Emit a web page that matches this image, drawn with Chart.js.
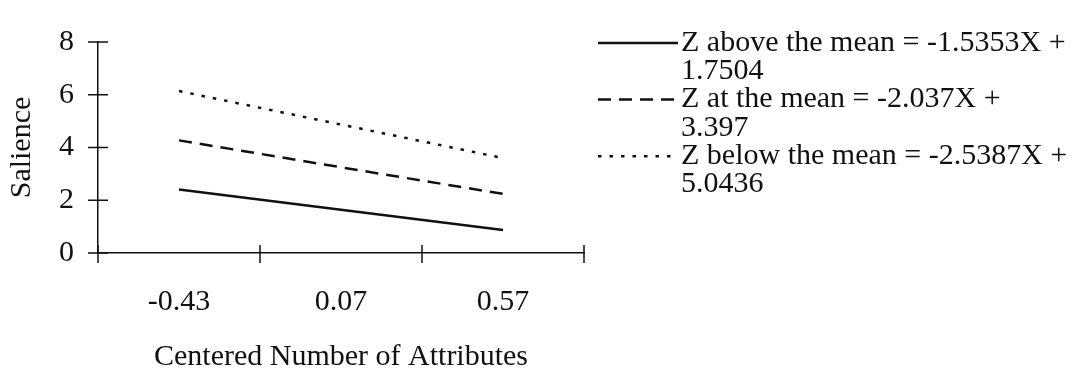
<!DOCTYPE html>
<html>
<head>
<meta charset="utf-8">
<script src="https://cdn.jsdelivr.net/npm/chart.js@4"></script>
<style>
  html, body { margin: 0; padding: 0; background: #fff; }
</style>
</head>
<body>
<canvas id="myChart" width="1075" height="368"></canvas>
<script>
const categories = ['-0.43', '0.07', '0.57']
const aboveMean = [2.41, 1.64, 0.87]
const atMean = [4.27, 3.25, 2.24]
const belowMean = [6.14, 4.87, 3.6]
const yTicks = [0, 2, 4, 6, 8]
const legendLabels = [
  ['Z above the mean = -1.5353X +', '1.7504'],
  ['Z at the mean = -2.037X +', '3.397'],
  ['Z below the mean = -2.5387X +', '5.0436'],
]

const FONT = "'Liberation Serif', 'Times New Roman', serif"
const INK = '#111'

// tick marks that cross the axes, like the original
const crossTicks = {
  id: 'crossTicks',
  afterDraw(chart) {
    const ctx = chart.ctx
    const xs = chart.scales.x
    const ys = chart.scales.y
    ctx.save()
    ctx.strokeStyle = INK
    ctx.lineWidth = 1.5
    ctx.beginPath()
    yTicks.forEach(v => {
      const py = ys.getPixelForValue(v)
      ctx.moveTo(xs.left - 10, py)
      ctx.lineTo(xs.left + 10, py)
    })
    for (let i = 0; i <= categories.length; i++) {
      const px = xs.getPixelForValue(i - 0.5)
      ctx.moveTo(px, ys.bottom - 8)
      ctx.lineTo(px, ys.bottom + 10)
    }
    ctx.stroke()
    ctx.restore()
  },
}

// legend on the right with wrapped labels
const sideLegend = {
  id: 'sideLegend',
  afterDraw(chart) {
    const ctx = chart.ctx
    const x0 = 598
    const x1 = 678
    const tx = 681
    const lineH = 28.3
    let y = 43
    ctx.save()
    ctx.font = '30px ' + FONT
    ctx.textBaseline = 'middle'
    ctx.fillStyle = INK
    chart.data.datasets.forEach((ds, i) => {
      ctx.beginPath()
      ctx.strokeStyle = INK
      ctx.lineWidth = ds.borderWidth
      ctx.setLineDash(ds.borderDash || [])
      ctx.moveTo(x0, y)
      ctx.lineTo(x1, y)
      ctx.stroke()
      ctx.setLineDash([])
      legendLabels[i].forEach((t, j) => {
        ctx.fillText(t, tx, y + j * lineH)
      })
      y += lineH * legendLabels[i].length
    })
    ctx.restore()
  },
}

const data = {
  labels: categories,
  datasets: [
    {
      label: legendLabels[0].join(' '),
      data: aboveMean,
      borderColor: INK,
      borderWidth: 2.5,
      pointRadius: 0,
      fill: false,
    },
    {
      label: legendLabels[1].join(' '),
      data: atMean,
      borderColor: INK,
      borderWidth: 2.5,
      borderDash: [13, 8],
      pointRadius: 0,
      fill: false,
    },
    {
      label: legendLabels[2].join(' '),
      data: belowMean,
      borderColor: INK,
      borderWidth: 2.5,
      borderDash: [3.5, 8],
      pointRadius: 0,
      fill: false,
    },
  ],
}

const config = {
  type: 'line',
  data: data,
  options: {
    responsive: false,
    animation: false,
    devicePixelRatio: 1,
    layout: { padding: { top: 27, right: 491, left: 0, bottom: 0 } },
    plugins: {
      legend: { display: false },
      tooltip: { enabled: false },
    },
    scales: {
      x: {
        type: 'category',
        offset: true,
        grid: { display: false, drawTicks: false },
        border: { display: true, color: INK, width: 1.5 },
        ticks: {
          color: INK,
          font: { family: FONT, size: 30 },
          padding: 31,
          maxRotation: 0,
        },
        title: {
          display: true,
          text: 'Centered Number of Attributes',
          color: INK,
          font: { family: FONT, size: 30, lineHeight: 0.73 },
          padding: { top: 0, bottom: 0 },
        },
        afterFit(scale) {
          scale.height = 115
        },
      },
      y: {
        min: 0,
        max: 8,
        grid: { display: false, drawTicks: false },
        border: { display: true, color: INK, width: 1.5 },
        ticks: {
          stepSize: 2,
          color: INK,
          font: { family: FONT, size: 30 },
          padding: 24,
        },
        afterBuildTicks(scale) {
          scale.ticks = yTicks.map(v => ({ value: v }))
        },
        title: {
          display: true,
          text: 'Salience',
          color: INK,
          font: { family: FONT, size: 30, lineHeight: 1.2 },
          padding: { top: 4, bottom: 0 },
        },
        afterFit(scale) {
          scale.width = 98
        },
      },
    },
  },
  plugins: [crossTicks, sideLegend],
}

const ctx = document.getElementById('myChart').getContext('2d')
window.myLine = new Chart(ctx, config)
</script>
</body>
</html>
